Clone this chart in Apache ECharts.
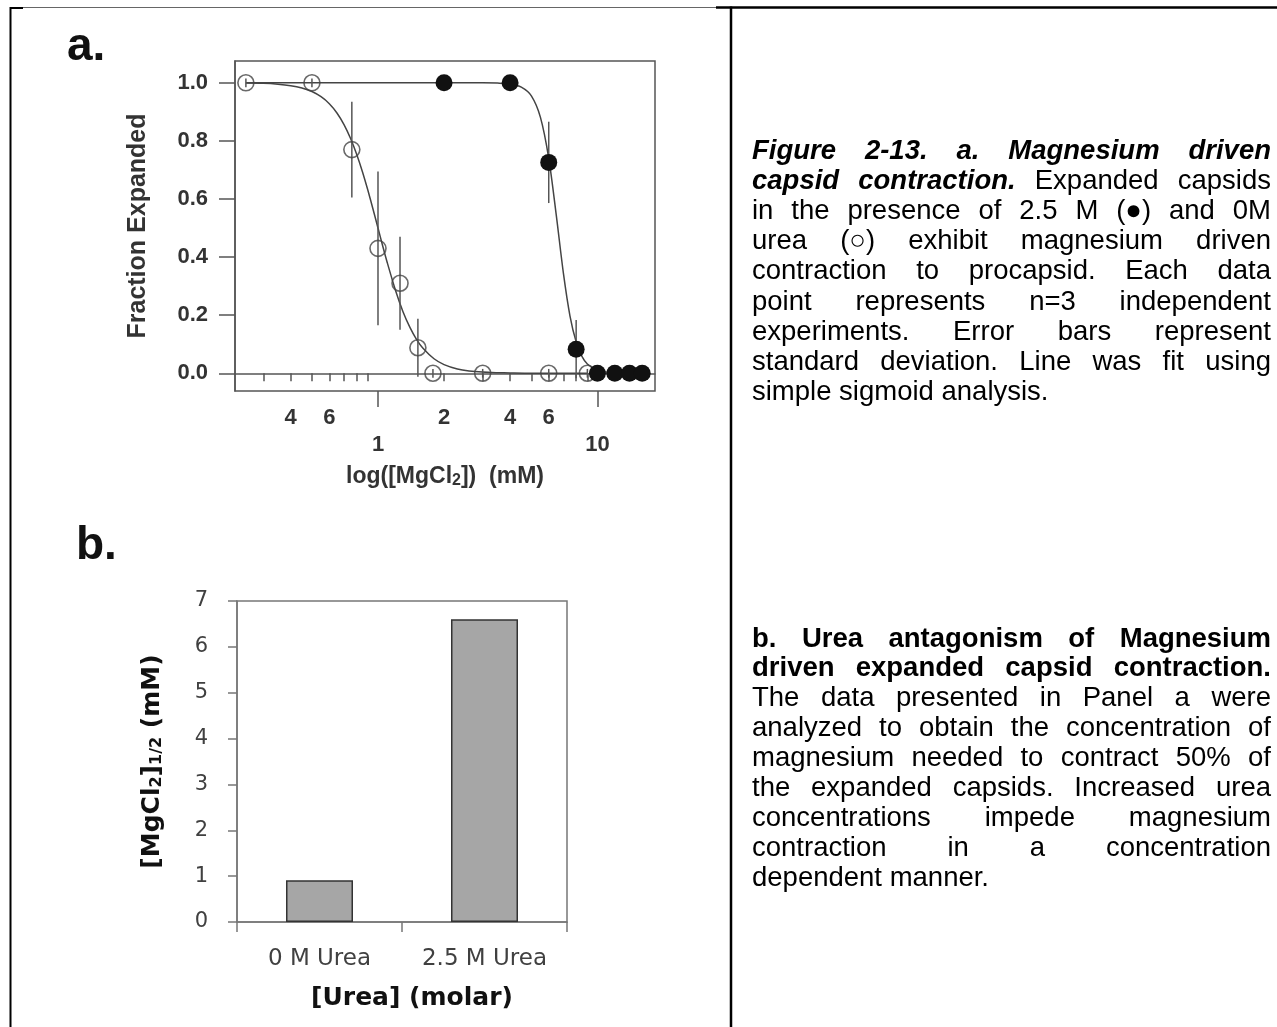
<!DOCTYPE html>
<html>
<head>
<meta charset="utf-8">
<title>Figure 2-13</title>
<style>
html, body { margin: 0; padding: 0; background: #fff; }
#chart { width: 1277px; height: 1027px; }
</style>
<script src="https://cdn.jsdelivr.net/npm/echarts@6/dist/echarts.min.js"></script>
</head>
<body>
<div id="chart"></div>
<script>
// ---- Panel a: fraction of expanded capsids vs [MgCl2] (mM) ----
// 0 M urea (open circles)
const mgOpen    = [0.25, 0.5, 0.76, 1.0, 1.26, 1.52, 1.78, 3, 6, 9];
const fracOpen  = [1.0, 1.0, 0.77, 0.43, 0.31, 0.088, 0.0, 0.0, 0.0, 0.0];
const sdOpen    = [0.015, 0.015, 0.165, 0.265, 0.16, 0.1, 0.015, 0.015, 0.015, 0.015];
// 2.5 M urea (filled circles)
const mgFilled   = [2, 4, 6, 8, 10, 12, 14, 16];
const fracFilled = [1.0, 1.0, 0.726, 0.083, 0.0, 0.0, 0.0, 0.0];
const sdFilled   = [0, 0, 0.14, 0.1, 0, 0, 0, 0];

// sigmoid fit lines
const fitOpenX = [0.25, 0.3, 0.35, 0.4, 0.45, 0.5, 0.55, 0.6, 0.65, 0.7, 0.75, 0.8, 0.85, 0.9, 0.95,
                  1.0, 1.05, 1.1, 1.2, 1.3, 1.4, 1.5, 1.6, 1.8, 2.0, 2.3, 2.6, 3.0, 3.5, 4, 5, 7, 9];
const fitOpenY = [0.999, 0.998, 0.995, 0.990, 0.982, 0.970, 0.952, 0.928, 0.896, 0.856, 0.808, 0.753, 0.693, 0.629, 0.564,
                  0.5, 0.439, 0.383, 0.287, 0.212, 0.157, 0.116, 0.087, 0.050, 0.030, 0.015, 0.008, 0.004, 0.002, 0.001, 0, 0, 0];
const fitFilledX = [0.25, 0.5, 1, 2, 3, 3.5, 4, 4.5, 5, 5.5, 6, 6.5, 7, 7.5, 8, 8.5, 9, 10, 11, 12, 14, 16];
const fitFilledY = [1, 1, 1, 1, 1, 0.999, 0.996, 0.985, 0.955, 0.881, 0.740, 0.542, 0.344, 0.197, 0.108, 0.058, 0.032, 0.010, 0.004, 0.001, 0, 0];

// axis ticks for panel a
const yTicksA       = [0, 0.2, 0.4, 0.6, 0.8, 1.0];
const xMinorTicksA  = [0.3, 0.4, 0.5, 0.6, 0.7, 0.8, 0.9, 2, 3, 4, 5, 6, 7, 8, 9];
const xMinorLabelsA = [0.4, 0.6, 2, 4, 6];
const xMajorA       = [1, 10];

// ---- Panel b: [MgCl2]1/2 for each urea concentration ----
const ureaCats = ['0 M Urea', '2.5 M Urea'];
const mgHalf   = [0.91, 6.6];

// ---- Caption text ----
const captionA = [
  [['bi', 'Figure 2-13. a. Magnesium driven']],
  [['bi', 'capsid contraction.'], ['r', 'Expanded capsids']],
  [['r', 'in the presence of 2.5 M (●) and 0M']],
  [['r', 'urea (○) exhibit magnesium driven']],
  [['r', 'contraction to procapsid. Each data']],
  [['r', 'point represents n=3 independent']],
  [['r', 'experiments. Error bars represent']],
  [['r', 'standard deviation. Line was fit using']],
  [['r', 'simple sigmoid analysis.']]
];
const captionB = [
  [['b', 'b. Urea antagonism of Magnesium']],
  [['b', 'driven expanded capsid contraction.']],
  [['r', 'The data presented in Panel a were']],
  [['r', 'analyzed to obtain the concentration of']],
  [['r', 'magnesium needed to contract 50% of']],
  [['r', 'the expanded capsids. Increased urea']],
  [['r', 'concentrations impede magnesium']],
  [['r', 'contraction in a concentration']],
  [['r', 'dependent manner.']]
];

const SANS = '"Liberation Sans", Arial, Helvetica, sans-serif';
const CAP_SIZE = 27.5;
const measureCtx = document.createElement('canvas').getContext('2d');
function capFont(kind) {
  return (kind.indexOf('i') >= 0 ? 'italic ' : '') + (kind.indexOf('b') >= 0 ? 'bold ' : '') +
         CAP_SIZE + 'px ' + SANS;
}
// lay out a justified paragraph word by word
function paragraph(lines, left, right, firstY, step) {
  const out = [];
  lines.forEach((runs, li) => {
    const words = [];
    runs.forEach(([kind, text]) => {
      text.split(/\s+/).filter(Boolean).forEach(w => {
        measureCtx.font = capFont(kind);
        words.push({ kind, w, width: measureCtx.measureText(w).width });
      });
    });
    const total = words.reduce((s, d) => s + d.width, 0);
    measureCtx.font = capFont('r');
    const space = measureCtx.measureText(' ').width;
    const last = li === lines.length - 1;
    const gap = (last || words.length < 2) ? space : (right - left - total) / (words.length - 1);
    let x = left;
    const y = firstY + li * step;
    words.forEach(d => {
      out.push({
        type: 'text', x: x, y: y, silent: true,
        style: { text: d.w, font: capFont(d.kind), fill: '#000', textAlign: 'left', textVerticalAlign: 'middle' }
      });
      x += d.width + gap;
    });
  });
  return out;
}

function errorBar(params, api) {
  const x = api.value(0), y = api.value(1), e = api.value(2);
  const p1 = api.coord([x, y + e]);
  const p2 = api.coord([x, y - e]);
  return {
    type: 'line',
    shape: { x1: p1[0], y1: p1[1], x2: p2[0], y2: p2[1] },
    style: { stroke: '#555', lineWidth: 1.5 }
  };
}

const zip2 = (a, b) => a.map((v, i) => [v, b[i]]);
const errOpen = mgOpen.map((x, i) => [x, fracOpen[i], sdOpen[i]]);
const errFilled = mgFilled.map((x, i) => [x, fracFilled[i], sdFilled[i]]).filter(d => d[2] > 0);

const axisGrayA = '#555';
const labelA = { fontFamily: SANS, fontWeight: 'bold', fontSize: 22, color: '#333' };
const BFONT = '"DejaVu Sans", "Open Sans", sans-serif';

const option = {
  animation: false,
  backgroundColor: '#fff',
  grid: [
    { left: 235, top: 61, width: 420, height: 330, show: true, borderColor: axisGrayA, borderWidth: 1.5, backgroundColor: 'transparent' },
    { left: 237, top: 601, width: 330, height: 321, show: true, borderColor: '#777', borderWidth: 1.5, backgroundColor: 'transparent' }
  ],
  xAxis: [
    {
      gridIndex: 0, type: 'log', logBase: 10, min: 0.223, max: 18.3, position: 'bottom',
      axisLine: { show: true, lineStyle: { color: axisGrayA, width: 1.5 } },
      axisTick: { show: true, length: 8, customValues: xMinorTicksA, lineStyle: { color: axisGrayA, width: 1.5 } },
      minorTick: { show: false },
      axisLabel: Object.assign({ margin: 16, customValues: xMinorLabelsA,
        formatter: v => String(Math.round(v / Math.pow(10, Math.floor(Math.log10(v) + 1e-9)))) }, labelA),
      splitLine: { show: false }
    },
    {
      gridIndex: 0, type: 'log', logBase: 10, min: 0.223, max: 18.3, position: 'bottom', offset: 0,
      axisLine: { show: false },
      axisTick: { show: true, length: 16, customValues: xMajorA, lineStyle: { color: axisGrayA, width: 1.5 } },
      axisLabel: Object.assign({ margin: 43, customValues: xMajorA, formatter: v => String(Math.round(v)) }, labelA),
      splitLine: { show: false },
      name: '{t|log([MgCl}{s|2}{t|])  (mM)}',
      nameLocation: 'middle', nameGap: 73,
      nameTextStyle: {
        rich: {
          t: { fontFamily: SANS, fontWeight: 'bold', fontSize: 23, color: '#333' },
          s: { fontFamily: SANS, fontWeight: 'bold', fontSize: 16, color: '#333', padding: [9, 0, 0, 0] }
        }
      }
    },
    {
      gridIndex: 1, type: 'category', data: ureaCats, boundaryGap: true,
      axisLine: { show: true, lineStyle: { color: '#777', width: 1.5 } },
      axisTick: { show: true, length: 10, lineStyle: { color: '#777', width: 1.5 } },
      axisLabel: { margin: 26, interval: 0, hideOverlap: false, fontFamily: BFONT, fontSize: 23, color: '#404040' },
      name: '[Urea] (molar)', nameLocation: 'middle', nameGap: 64,
      nameTextStyle: { fontFamily: BFONT, fontWeight: 'bold', fontSize: 25, color: '#111', padding: [0, 0, 0, 20] }
    }
  ],
  yAxis: [
    {
      gridIndex: 0, type: 'value', min: -0.061, max: 1.075,
      axisLine: { show: true, lineStyle: { color: axisGrayA, width: 1.5 } },
      axisTick: { show: true, length: 16, customValues: yTicksA, lineStyle: { color: axisGrayA, width: 1.5 } },
      axisLabel: Object.assign({ margin: 27, customValues: yTicksA, formatter: v => v.toFixed(1) }, labelA),
      splitLine: { show: false },
      name: 'Fraction Expanded', nameLocation: 'middle', nameGap: 84,
      nameTextStyle: { fontFamily: SANS, fontWeight: 'bold', fontSize: 25, color: '#333' }
    },
    {
      gridIndex: 1, type: 'value', min: 0, max: 7, interval: 1,
      axisLine: { show: true, lineStyle: { color: '#777', width: 1.5 } },
      axisTick: { show: true, length: 9, lineStyle: { color: '#777', width: 1.5 } },
      axisLabel: { margin: 29, fontFamily: BFONT, fontSize: 21, color: '#404040' },
      splitLine: { show: false },
      name: '{t|[MgCl}{s|2}{t|]}{s|1/2}{t| (mM)}', nameLocation: 'middle', nameGap: 72,
      nameTextStyle: {
        rich: {
          t: { fontFamily: BFONT, fontWeight: 'bold', fontSize: 25, color: '#111' },
          s: { fontFamily: BFONT, fontWeight: 'bold', fontSize: 16, color: '#111', padding: [10, 0, 0, 0] }
        }
      }
    }
  ],
  series: [
    {
      type: 'line', xAxisIndex: 0, yAxisIndex: 0, data: zip2(fitOpenX, fitOpenY),
      smooth: 0.3, showSymbol: false, silent: true, lineStyle: { color: '#444', width: 1.5 }, z: 2
    },
    {
      type: 'line', xAxisIndex: 0, yAxisIndex: 0, data: zip2(fitFilledX, fitFilledY),
      smooth: 0.3, showSymbol: false, silent: true, lineStyle: { color: '#444', width: 1.5 }, z: 2
    },
    {
      type: 'custom', xAxisIndex: 0, yAxisIndex: 0, renderItem: errorBar,
      dimensions: ['x', 'y', 'sd'], encode: { x: 0, y: 1 }, data: errOpen, z: 3
    },
    {
      type: 'custom', xAxisIndex: 0, yAxisIndex: 0, renderItem: errorBar,
      dimensions: ['x', 'y', 'sd'], encode: { x: 0, y: 1 }, data: errFilled, z: 3
    },
    {
      type: 'scatter', xAxisIndex: 0, yAxisIndex: 0, data: zip2(mgOpen, fracOpen),
      symbol: 'circle', symbolSize: 16,
      itemStyle: { color: 'rgba(255,255,255,0)', borderColor: '#444', borderWidth: 1.6 }, z: 4
    },
    {
      type: 'scatter', xAxisIndex: 0, yAxisIndex: 0, data: zip2(mgFilled, fracFilled),
      symbol: 'circle', symbolSize: 17, itemStyle: { color: '#111', opacity: 1 }, z: 5
    },
    {
      type: 'bar', xAxisIndex: 2, yAxisIndex: 1, data: mgHalf, barWidth: 67,
      itemStyle: { color: '#a6a6a6', borderColor: '#333', borderWidth: 1.5 }
    }
  ],
  graphic: [
    // page frame
    { type: 'line', silent: true, shape: { x1: 10, y1: 7.5, x2: 716, y2: 7.5 }, style: { stroke: '#666', lineWidth: 1 } },
    { type: 'line', silent: true, shape: { x1: 716, y1: 7.5, x2: 1277, y2: 7.5 }, style: { stroke: '#000', lineWidth: 2.5 } },
    { type: 'line', silent: true, shape: { x1: 10, y1: 8, x2: 23, y2: 8 }, style: { stroke: '#000', lineWidth: 2 } },
    { type: 'line', silent: true, shape: { x1: 10.5, y1: 7, x2: 10.5, y2: 1027 }, style: { stroke: '#000', lineWidth: 2 } },
    { type: 'line', silent: true, shape: { x1: 731, y1: 6.5, x2: 731, y2: 1027 }, style: { stroke: '#000', lineWidth: 2.5 } },
    // panel letters
    { type: 'text', x: 67, y: 47, silent: true,
      style: { text: 'a.', font: 'bold 46px ' + SANS, fill: '#111', textAlign: 'left', textVerticalAlign: 'middle' } },
    { type: 'text', x: 76, y: 546, silent: true,
      style: { text: 'b.', font: 'bold 46px ' + SANS, fill: '#111', textAlign: 'left', textVerticalAlign: 'middle' } }
  ].concat(paragraph(captionA, 752, 1271, 151, 30.2))
   .concat(paragraph(captionB, 752, 1271, 639, 29.9))
};

const chart = echarts.init(document.getElementById('chart'), null, { renderer: 'canvas' });
chart.setOption(option);
</script>
</body>
</html>
